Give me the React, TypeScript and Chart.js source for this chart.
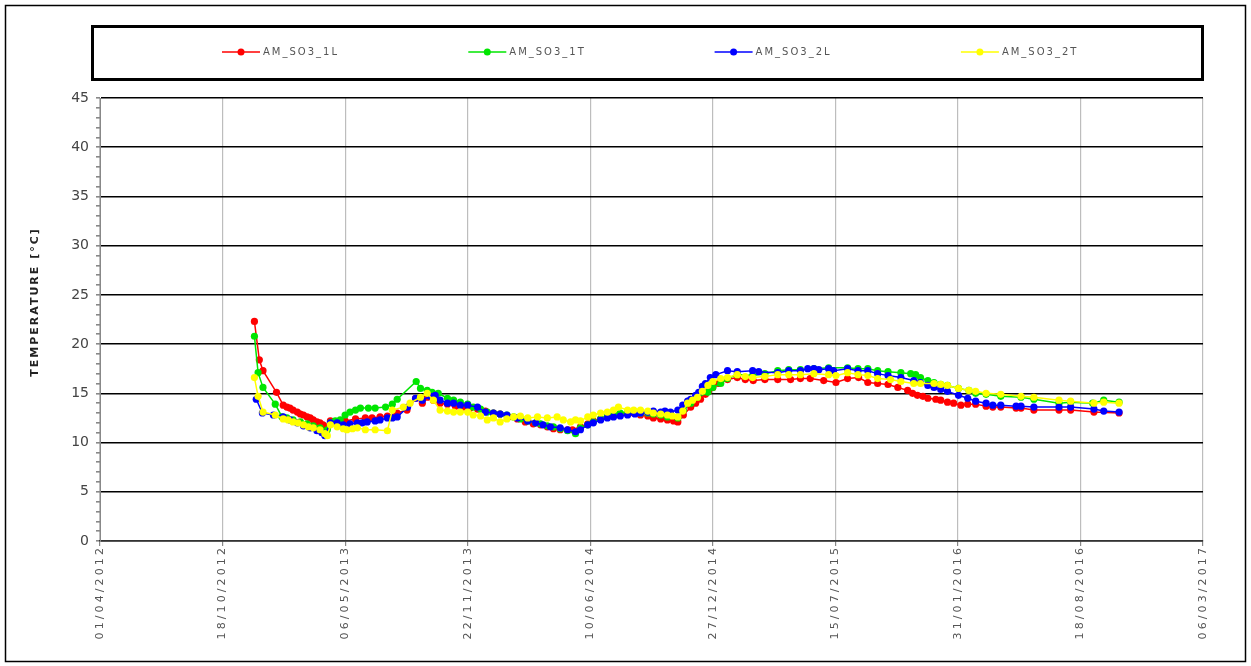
import React, { useEffect, useRef } from 'react';
import { Chart, registerables } from 'chart.js';

Chart.register(...registerables);

// ---- Data (x = days since 01/04/2012, y = temperature °C) ----
const seriesNames = ['AM_SO3_1L', 'AM_SO3_1T', 'AM_SO3_2L', 'AM_SO3_2T'];
const seriesColors = ['#ff0000', '#00e600', '#0000ff', '#ffff00'];

const so3_1L: [number, number][] = [
  [252,22.3],[260,18.4],[266,17.3],[288,15.1],[299,13.8],[305,13.6],[310,13.5],[315,13.3],[322,13.1],[327,12.9],[332,12.8],[338,12.6],[343,12.5],[348,12.3],[354,12.1],[359,12.0],[364,11.8],[371,11.6],[376,12.2],[384,12.0],[400,12.2],[417,12.4],[433,12.5],[444,12.5],[457,12.6],[469,12.7],[485,13.0],[501,13.3],[515,14.5],[526,14.0],[534,14.6],[544,14.3],[555,14.0],[567,13.9],[580,13.7],[593,13.6],[604,13.5],[616,13.4],[629,13.2],[642,13.0],[653,12.9],[666,12.6],[681,12.4],[694,12.1],[707,11.9],[719,11.8],[730,11.6],[740,11.4],[751,11.3],[763,11.3],[771,11.3],[784,11.6],[796,11.9],[805,12.2],[817,12.4],[828,12.6],[838,12.8],[849,12.9],[861,13.0],[871,13.0],[882,12.8],[894,12.7],[903,12.5],[915,12.4],[926,12.3],[936,12.2],[943,12.1],[952,12.8],[964,13.6],[972,14.0],[980,14.4],[988,14.9],[993,15.2],[1000,15.6],[1009,16.0],[1024,16.4],[1040,16.6],[1053,16.4],[1066,16.3],[1085,16.4],[1106,16.4],[1127,16.4],[1143,16.5],[1159,16.5],[1181,16.3],[1201,16.1],[1220,16.5],[1238,16.6],[1253,16.1],[1269,16.0],[1286,15.9],[1302,15.6],[1318,15.3],[1326,15.0],[1334,14.8],[1343,14.7],[1351,14.5],[1364,14.4],[1372,14.3],[1383,14.1],[1393,14.0],[1405,13.8],[1416,13.9],[1429,13.9],[1446,13.7],[1457,13.6],[1470,13.6],[1495,13.5],[1503,13.5],[1524,13.3],[1565,13.3],[1584,13.3],[1622,13.1],[1663,13.0],
];

const so3_1T: [number, number][] = [
  [252,20.8],[258,17.1],[266,15.6],[286,13.9],[297,12.6],[305,12.5],[315,12.3],[327,12.1],[338,11.9],[348,11.7],[359,11.5],[371,11.3],[376,12.0],[384,12.2],[392,12.3],[400,12.8],[408,13.1],[417,13.3],[425,13.5],[438,13.5],[449,13.5],[466,13.6],[477,13.9],[485,14.4],[516,16.2],[523,15.5],[534,15.3],[542,15.1],[552,15.0],[567,14.5],[577,14.3],[588,14.1],[600,13.9],[609,13.6],[621,13.4],[632,13.1],[642,13.0],[653,12.9],[664,12.8],[675,12.6],[686,12.4],[698,12.2],[711,12.0],[719,11.9],[730,11.7],[740,11.6],[751,11.4],[763,11.2],[776,10.9],[784,11.5],[796,11.8],[805,12.1],[817,12.4],[828,12.7],[838,12.9],[849,13.0],[861,13.1],[873,13.1],[882,13.0],[894,13.0],[903,12.9],[915,12.8],[926,12.6],[943,12.5],[952,13.3],[964,14.0],[975,14.6],[992,15.1],[1000,15.6],[1013,16.0],[1024,16.5],[1040,16.9],[1065,16.8],[1085,17.0],[1106,17.3],[1124,17.4],[1143,17.4],[1165,17.5],[1189,17.6],[1220,17.6],[1237,17.5],[1253,17.5],[1269,17.3],[1286,17.2],[1307,17.1],[1323,17.0],[1331,16.9],[1339,16.6],[1351,16.3],[1361,16.1],[1372,15.9],[1383,15.8],[1401,15.5],[1418,15.3],[1429,15.0],[1446,14.9],[1470,14.7],[1503,14.6],[1524,14.4],[1565,14.0],[1584,14.1],[1620,14.0],[1638,14.3],[1663,14.1],
];

const so3_2L: [number, number][] = [
  [255,14.4],[265,13.0],[283,12.8],[299,12.6],[310,12.3],[322,12.0],[332,11.7],[343,11.5],[354,11.2],[362,11.0],[367,10.7],[376,12.0],[387,12.0],[397,11.8],[408,11.9],[420,12.0],[428,12.0],[436,12.1],[449,12.2],[457,12.3],[469,12.5],[477,12.5],[485,12.6],[502,13.6],[515,14.5],[526,14.3],[539,14.7],[547,14.8],[555,14.3],[567,14.0],[577,14.0],[588,13.8],[600,13.8],[616,13.6],[629,13.1],[642,13.0],[653,12.9],[664,12.8],[681,12.5],[698,12.2],[711,12.0],[723,11.8],[735,11.6],[751,11.5],[763,11.3],[776,11.1],[784,11.3],[796,11.8],[805,12.0],[817,12.3],[828,12.5],[838,12.6],[849,12.7],[861,12.8],[873,12.9],[882,13.0],[894,13.1],[903,13.2],[915,13.1],[922,13.2],[931,13.1],[943,13.3],[951,13.8],[959,14.2],[964,14.4],[972,14.8],[977,15.1],[983,15.7],[988,16.0],[996,16.6],[1005,16.9],[1024,17.3],[1040,17.2],[1065,17.3],[1075,17.2],[1106,17.1],[1124,17.3],[1143,17.3],[1155,17.5],[1165,17.5],[1173,17.4],[1189,17.5],[1197,17.3],[1220,17.5],[1237,17.3],[1253,17.3],[1269,17.0],[1286,16.8],[1307,16.6],[1328,16.3],[1339,16.1],[1351,15.8],[1361,15.6],[1372,15.4],[1383,15.2],[1401,14.8],[1416,14.5],[1429,14.2],[1446,14.0],[1457,13.8],[1470,13.8],[1495,13.7],[1503,13.7],[1524,13.6],[1565,13.6],[1584,13.6],[1622,13.4],[1638,13.2],[1663,13.1],
];

const so3_2T: [number, number][] = [
  [252,16.6],[258,14.7],[266,13.1],[286,12.8],[299,12.4],[307,12.3],[315,12.1],[323,12.0],[332,11.8],[340,11.6],[348,11.5],[359,11.3],[367,10.9],[371,10.7],[376,11.8],[387,11.6],[397,11.4],[403,11.3],[412,11.4],[420,11.5],[433,11.3],[449,11.3],[469,11.2],[477,13.3],[495,13.6],[506,14.0],[523,14.6],[534,15.0],[544,14.3],[555,13.3],[567,13.2],[577,13.1],[588,13.1],[600,13.1],[609,12.8],[621,12.7],[632,12.3],[642,12.5],[653,12.1],[664,12.4],[675,12.6],[686,12.7],[698,12.5],[714,12.6],[730,12.5],[746,12.6],[756,12.3],[768,12.1],[776,12.3],[784,12.2],[796,12.6],[805,12.8],[817,13.0],[828,13.1],[838,13.3],[846,13.6],[861,13.3],[871,13.3],[882,13.3],[894,13.2],[903,13.0],[915,12.9],[926,12.8],[934,12.7],[943,12.6],[951,13.2],[959,14.0],[967,14.3],[975,14.6],[983,15.2],[992,15.8],[1000,16.2],[1013,16.5],[1024,16.6],[1040,16.9],[1053,16.7],[1065,16.6],[1085,16.7],[1106,16.9],[1124,16.9],[1143,16.9],[1165,17.0],[1189,16.9],[1201,16.8],[1220,17.1],[1237,16.9],[1253,16.8],[1269,16.5],[1290,16.4],[1307,16.2],[1328,16.0],[1339,16.0],[1361,16.0],[1372,15.9],[1383,15.8],[1401,15.5],[1418,15.3],[1429,15.2],[1446,15.0],[1470,14.9],[1503,14.7],[1524,14.6],[1565,14.3],[1584,14.2],[1622,14.0],[1638,14.1],[1663,14.0],
];

const seriesData = [so3_1L, so3_1T, so3_2L, so3_2T];

const xTickDays = [0, 200, 400, 600, 800, 1000, 1200, 1400, 1600, 1800];
const xTickLabels = [
  '01/04/2012', '18/10/2012', '06/05/2013', '22/11/2013', '10/06/2014',
  '27/12/2014', '15/07/2015', '31/01/2016', '18/08/2016', '06/03/2017',
];
const yMin = 0;
const yMax = 45;
const yLabelStep = 5;
const yAxisTitle = 'TEMPERATURE [°C]';

const W = 1251;
const H = 666;

const decorPlugin = {
  id: 'decor',
  afterDraw(chart: any) {
    const ctx = chart.ctx as CanvasRenderingContext2D;
    const xs = chart.scales.x;
    const area = chart.chartArea;

    // outer frame
    ctx.save();
    ctx.strokeStyle = '#000';
    ctx.lineWidth = 1.5;
    ctx.strokeRect(5.5, 5.5, W - 11, H - 10);
    ctx.restore();

    // x tick labels (rotated)
    ctx.save();
    ctx.font = '11px "DejaVu Sans"';
    ctx.fillStyle = '#555';
    (ctx as any).letterSpacing = '3.1px';
    ctx.textAlign = 'right';
    ctx.textBaseline = 'middle';
    xTickDays.forEach((d, i) => {
      const px = xs.getPixelForValue(d);
      ctx.save();
      ctx.translate(px, area.bottom + 4);
      ctx.rotate(-Math.PI / 2);
      ctx.fillText(xTickLabels[i], 0, 0);
      ctx.restore();
    });
    ctx.restore();

    // y axis title
    ctx.save();
    ctx.font = 'bold 11px "DejaVu Sans"';
    ctx.fillStyle = '#222';
    (ctx as any).letterSpacing = '2px';
    ctx.textAlign = 'center';
    ctx.textBaseline = 'middle';
    ctx.translate(35, 302);
    ctx.rotate(-Math.PI / 2);
    ctx.fillText(yAxisTitle, 0, 0);
    ctx.restore();

    // legend box
    ctx.save();
    ctx.strokeStyle = '#000';
    ctx.lineWidth = 3;
    ctx.strokeRect(92.5, 26.5, 1110, 53);
    const ly = 52;
    ctx.font = '10px "DejaVu Sans"';
    (ctx as any).letterSpacing = '2px';
    ctx.textAlign = 'left';
    ctx.textBaseline = 'middle';
    seriesNames.forEach((name, i) => {
      const cx = 241 + i * 246.3;
      ctx.strokeStyle = seriesColors[i];
      ctx.lineWidth = 1.5;
      ctx.beginPath();
      ctx.moveTo(cx - 19, ly);
      ctx.lineTo(cx + 19, ly);
      ctx.stroke();
      ctx.fillStyle = seriesColors[i];
      ctx.beginPath();
      ctx.arc(cx, ly, 3.5, 0, Math.PI * 2);
      ctx.fill();
      ctx.fillStyle = '#555';
      ctx.fillText(name, cx + 22, ly);
    });
    ctx.restore();
  },
};

export default function App() {
  const ref = useRef<HTMLCanvasElement>(null);

  useEffect(() => {
    if (!ref.current) return;
    const datasets = seriesData.map((pts, i) => ({
      label: seriesNames[i],
      data: pts.map(([x, y]) => ({ x, y })),
      borderColor: seriesColors[i],
      backgroundColor: seriesColors[i],
      pointBackgroundColor: seriesColors[i],
      pointBorderColor: seriesColors[i],
      pointBorderWidth: 0,
      pointRadius: 3.6,
      borderWidth: 1.5,
      tension: 0,
      order: seriesNames.length - i,
    }));

    const chart = new Chart(ref.current, {
      type: 'line',
      data: { datasets },
      options: {
        animation: false,
        responsive: false,
        devicePixelRatio: 1,
        layout: { padding: { left: 0, top: 98, right: W - 1203, bottom: 0 } },
        plugins: {
          legend: { display: false },
          tooltip: { enabled: false },
        },
        scales: {
          x: {
            type: 'linear',
            min: xTickDays[0],
            max: xTickDays[xTickDays.length - 1],
            afterBuildTicks: (scale: any) => {
              scale.ticks = xTickDays.map((v) => ({ value: v }));
            },
            afterFit: (scale: any) => {
              scale.height = H - 541;
            },
            ticks: { display: false },
            grid: {
              color: '#bdbdbd',
              lineWidth: 1.2,
              drawTicks: true,
              tickLength: 5,
              tickColor: '#888',
            },
            border: { color: '#333', width: 1.5 },
          },
          y: {
            type: 'linear',
            min: yMin,
            max: yMax,
            afterFit: (scale: any) => {
              scale.width = 100;
            },
            ticks: {
              stepSize: 1,
              autoSkip: false,
              padding: 7,
              color: '#444',
              font: { family: '"DejaVu Sans"', size: 14 },
              callback: (v: any) => (Number(v) % yLabelStep === 0 ? String(v) : ''),
            },
            grid: {
              color: (c: any) =>
                c.tick && Number(c.tick.value) % yLabelStep === 0 ? '#000' : 'rgba(0,0,0,0)',
              lineWidth: 1.6,
              tickLength: 4,
              tickColor: '#888',
            },
            border: { color: '#888', width: 1 },
          },
        },
      },
      plugins: [decorPlugin],
    } as any);

    return () => chart.destroy();
  }, []);

  return (
    <div style={{ position: 'fixed', left: 0, top: 0, width: W, height: H, background: '#fff' }}>
      <canvas ref={ref} width={W} height={H} style={{ display: 'block', width: W, height: H }} />
    </div>
  );
}
